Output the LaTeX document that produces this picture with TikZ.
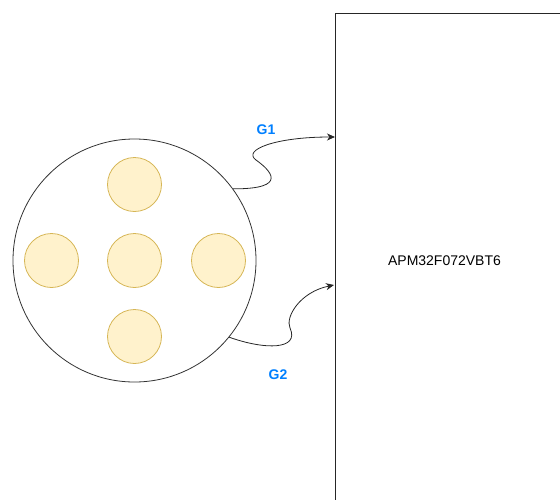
\documentclass[tikz,border=0pt]{standalone}
\usepackage{fontspec}
\setmainfont{Liberation Sans}
\usetikzlibrary{arrows.meta}

\definecolor{btnfill}{HTML}{FFF2CC}
\definecolor{btnedge}{HTML}{D6B656}
\definecolor{sigblue}{HTML}{007FFF}

\begin{document}
\begin{tikzpicture}[x=1pt,y=-1pt,
    pad/.style={circle,draw=black!80,line width=0.8pt,minimum size=243pt,inner sep=0pt},
    button/.style={circle,draw=btnedge,fill=btnfill,line width=0.8pt,minimum size=54pt,inner sep=0pt},
    chip/.style={draw=black!85,line width=1pt,minimum width=240pt,minimum height=495pt,inner sep=0pt},
    wire/.style={line width=0.8pt,draw=black!85,-{Stealth[length=8pt,width=7pt,inset=2.5pt]}},
    signame/.style={text=sigblue,font=\fontsize{14}{16}\selectfont\bfseries}]

  \useasboundingbox (0,0) rectangle (560,499);
  \clip (0,0) rectangle (560,499);

  \node[chip] (mcu) at (455,260.5) {};
  \node[font=\fontsize{14}{16}\selectfont] (mcutext) at (444.5,261) {APM32F072VBT6};

  \node[pad] (pad) at (134.5,260.5) {};

  \foreach \name/\dx/\dy in {up/0/-76, left/-83/0, mid/0/0, right/84/0, down/0/76}{
    \node[button] (\name) at (134.5+\dx,260.5+\dy) {};
  }

  \coordinate (g1end) at (335,137);
  \coordinate (g2end) at (334,285);

  % the two signal lines
  \draw[wire] (pad.36) .. controls (290,189) and (270,170) .. (256,160)
    .. controls (242,150) and (275,137) .. (g1end);
  \draw[wire] (pad.-39) .. controls (265,350) and (300,350) .. (290,328)
    .. controls (285,317) and (300,292) .. (g2end);

  \node[signame] (g1) at (266,130) {G1};
  \node[signame] (g2) at (278,375) {G2};

\end{tikzpicture}
\end{document}
